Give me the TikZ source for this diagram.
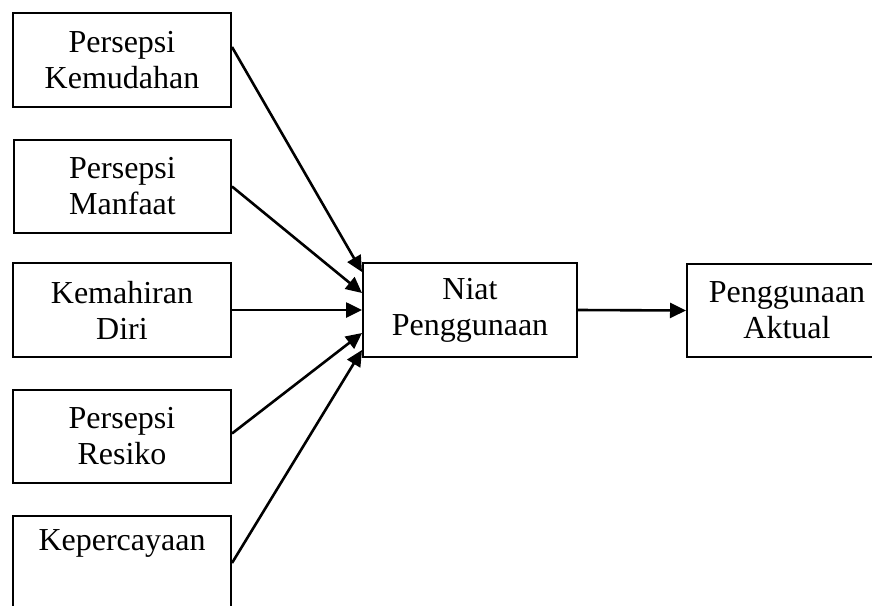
\documentclass[tikz,border=0pt]{standalone}
\usepackage{fontspec}
\setmainfont{Liberation Serif}
\usetikzlibrary{arrows.meta}
\begin{document}
\begin{tikzpicture}[x=0.5pt,y=-0.5pt,
  box/.style={draw=black,line width=1pt,inner sep=0pt,align=center,
    font=\fontsize{16}{18}\selectfont},
  conn/.style={line width=1.3pt,-{Triangle[length=8pt,width=7.5pt]}}]
\useasboundingbox (0,0) rectangle (872,605);
\node[box,minimum width=109pt,minimum height=47pt] (b1) at (122,60) {Persepsi\\Kemudahan};
\node[box,minimum width=108.5pt,minimum height=46.5pt] (b2) at (122.5,186.5) {Persepsi\\Manfaat};
\node[box,minimum width=109pt,minimum height=47pt] (b3) at (122,310) {Kemahiran\\Diri};
\node[box,minimum width=109pt,minimum height=46.5pt] (b4) at (122,436.5) {Persepsi\\Resiko};
\node[box,minimum width=109pt,minimum height=47pt] (b5) at (122,563) {Kepercayaan\\\strut};
\node[box,minimum width=107pt,minimum height=47pt] (niat) at (470,310) {Niat\\Penggunaan};
\node[box,minimum width=100pt,minimum height=46.5pt] (akt) at (787,310.5) {Penggunaan\\Aktual};
\draw[conn] ([yshift=6.5pt]b1.east) -- ([yshift=19pt]niat.west);
\draw[conn] (b2.east) -- ([yshift=8.5pt]niat.west);
\draw[conn] (b3.east) -- (niat.west);
\draw[conn] ([yshift=1.5pt]b4.east) -- ([yshift=-11.5pt]niat.west);
\draw[conn] (b5.east) -- ([yshift=-20pt]niat.west);
\draw[conn] (niat.east) -- (akt.west);
\end{tikzpicture}
\end{document}
